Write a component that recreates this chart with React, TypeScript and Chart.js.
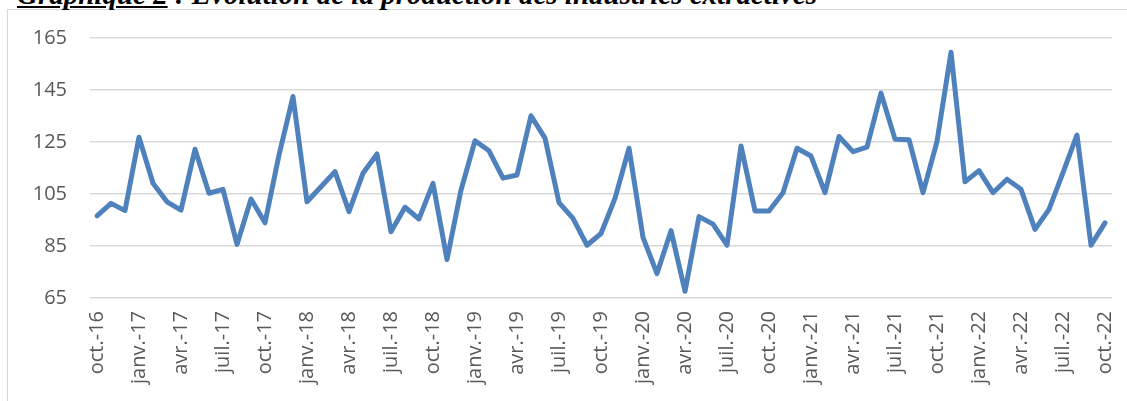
import React, { useEffect, useRef } from "react";
import { Chart, registerables } from "chart.js";

Chart.register(...registerables);

const MONTHS = ["janv.", "févr.", "mars", "avr.", "mai", "juin", "juil.", "août", "sept.", "oct.", "nov.", "déc."];
const START_MONTH = 9; // oct.
const START_YEAR = 16;
const N_POINTS = 73;

const categories: string[] = [];
for (let i = 0; i < N_POINTS; i++) {
  const m = (START_MONTH + i) % 12;
  const y = START_YEAR + Math.floor((START_MONTH + i) / 12);
  categories.push(`${MONTHS[m]}-${y}`);
}

const production = [
  96.6, 101.4, 98.6, 126.8, 109.1, 102, 98.8, 122.2, 105.3, 106.8, 85.6, 103.1,
  93.9, 120, 142.5, 102, 107.8, 113.6, 98.2, 113, 120.4, 90.5, 99.9, 95.4,
  109.1, 79.8, 106.5, 125.5, 121.6, 111.1, 112.3, 135.1, 126.5, 101.7, 95.6, 85.3,
  89.8, 103.3, 122.6, 88.3, 74.4, 90.9, 67.6, 96.3, 93.4, 85.3, 123.5, 98.5,
  98.5, 105.5, 122.6, 119.6, 105.5, 127.1, 121.3, 123, 143.8, 126.1, 125.9, 105.5,
  125.2, 159.5, 109.7, 114, 105.5, 110.7, 106.8, 91.4, 99.1, 113.2, 127.7, 85.3,
  93.9,
];

const Y_MIN = 65;
const Y_MAX = 165;
const Y_STEP = 20;
const LABEL_EVERY = 3;

const TITLE_NUM = "Graphique 2";
const TITLE_REST = " : Evolution de la production des industries extractives";

export default function App() {
  const canvasRef = useRef<HTMLCanvasElement | null>(null);

  useEffect(() => {
    const canvas = canvasRef.current;
    if (!canvas) return;
    const chart = new Chart(canvas, {
      type: "line",
      data: {
        labels: categories,
        datasets: [
          {
            data: production,
            borderColor: "#4F81BD",
            backgroundColor: "#4F81BD",
            borderWidth: 5,
            pointRadius: 0,
            pointHoverRadius: 0,
            borderJoinStyle: "round",
            borderCapStyle: "round",
            tension: 0,
          },
        ],
      },
      options: {
        animation: false,
        responsive: false,
        maintainAspectRatio: false,
        layout: { padding: { left: 0, right: 15, top: 38, bottom: 0 } },
        plugins: { legend: { display: false }, tooltip: { enabled: false }, title: { display: false } },
        scales: {
          x: {
            type: "category",
            offset: true,
            grid: { display: false, drawTicks: false },
            border: { display: false },
            afterFit: (scale: any) => {
              scale.height = 103;
              scale.paddingLeft = 0;
              scale.paddingRight = 0;
            },
            ticks: {
              autoSkip: false,
              maxRotation: 90,
              minRotation: 90,
              padding: 13,
              color: "#595959",
              font: { family: "'Open Sans'", size: 20 },
              callback: function (this: any, _v: any, index: number) {
                return index % LABEL_EVERY === 0 ? categories[index] : "";
              },
            },
          },
          y: {
            min: Y_MIN,
            max: Y_MAX,
            grid: { color: "#d9d9d9", lineWidth: 1.5, drawTicks: false },
            border: { display: false },
            afterFit: (scale: any) => {
              scale.width = 90;
              scale.paddingTop = 0;
              scale.paddingBottom = 0;
            },
            ticks: {
              stepSize: Y_STEP,
              padding: 23,
              color: "#595959",
              font: { family: "'Open Sans'", size: 20 },
            },
          },
        },
      },
    });
    return () => chart.destroy();
  }, []);

  return (
    <div style={{ position: "fixed", left: 0, top: 0, width: 1127, height: 401, overflow: "hidden", background: "#fff" }}>
      <div
        style={{
          position: "absolute",
          left: 7,
          top: 9,
          width: 1200,
          height: 500,
          border: "1px solid #d9d9d9",
          boxSizing: "border-box",
        }}
      />
      <div
        style={{
          position: "absolute",
          left: 17,
          top: -20,
          fontFamily: "'Liberation Serif', serif",
          fontWeight: "bold",
          fontStyle: "italic",
          fontSize: 29,
          lineHeight: "29px",
          whiteSpace: "nowrap",
          color: "#000",
        }}
      >
        <span style={{ textDecoration: "underline" }}>{TITLE_NUM}</span>
        <span>{TITLE_REST}</span>
      </div>
      <canvas ref={canvasRef} width={1127} height={401} style={{ position: "absolute", left: 0, top: 0, width: 1127, height: 401 }} />
    </div>
  );
}
